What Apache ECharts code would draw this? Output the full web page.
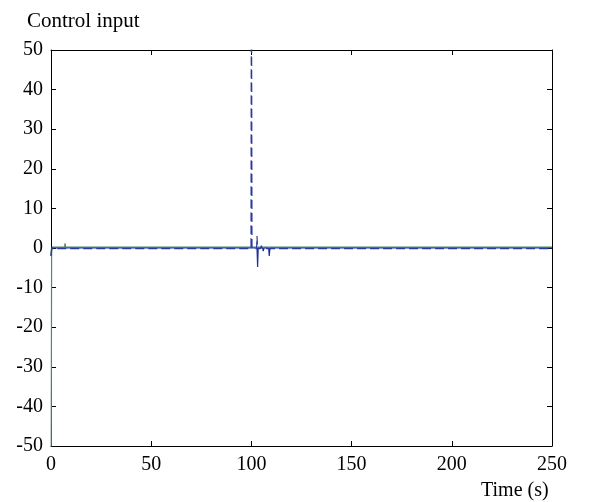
<!DOCTYPE html>
<html>
<head>
<meta charset="utf-8">
<script src="https://cdn.jsdelivr.net/npm/echarts@6/dist/echarts.min.js"></script>
<style>
  html, body { margin: 0; padding: 0; background: #fff; }
  #chart { width: 593px; height: 502px; }
</style>
</head>
<body>
<div id="chart"></div>
<script>
// Axis ticks
const xTicks = [0, 50, 100, 150, 200, 250];
const yTicks = [-50, -40, -30, -20, -10, 0, 10, 20, 30, 40, 50];

// Control channel 1 (dashed blue)
const t1 = [0, 0.3, 99.8, 100, 100.3, 102.6, 102.8, 103.1, 104.5, 105, 105.4, 250];
const u1 = [-2, -0.15, -0.15, 80, -0.15, -0.15, 3, -0.15, -0.15, 0.6, -0.15, -0.15];

// Control channel 2 (solid blue)
const t2 = [0, 0.3, 102.8, 103.1, 103.4, 105.6, 105.9, 106.3, 108.6, 108.9, 109.3, 250];
const u2 = [-2, 0, 0, -4.8, 0, 0, -0.8, 0, 0, -2, 0, 0];

// Control channel 3 (solid green)
const t3 = [0, 0.3, 0.6, 6.8, 7, 7.3, 250];
const u3 = [-80, -1.5, 0.2, 0.2, 1.2, 0.2, 0.2];

const pairs = (t, u) => t.map((v, i) => [v, u[i]]);

const font = 'Liberation Serif, Times New Roman, serif';
const chart = echarts.init(document.getElementById('chart'), null, { renderer: 'canvas' });

const boxAxis = {
  axisLine: { show: true, onZero: false, lineStyle: { color: '#000', width: 1 } },
  axisTick: { show: true, inside: true, length: 5, lineStyle: { color: '#000' } },
  splitLine: { show: false }
};

chart.setOption({
  animation: false,
  backgroundColor: '#fff',
  title: {
    text: 'Control input',
    left: 22, top: 6,
    textStyle: { fontFamily: font, fontSize: 21, fontWeight: 'normal', color: '#000' }
  },
  graphic: [{
    type: 'text', left: 481, top: 481,
    style: { text: 'Time (s)', font: '20px ' + font, fill: '#000' }
  }],
  grid: { left: 51, right: 41, top: 50, bottom: 56 },
  xAxis: [
    Object.assign({
      type: 'value', min: 0, max: 250, interval: 50, position: 'bottom',
      axisLabel: { fontFamily: font, fontSize: 20, color: '#000', margin: 9,
        formatter: v => xTicks.includes(v) ? String(v) : '' }
    }, boxAxis),
    Object.assign({
      type: 'value', min: 0, max: 250, interval: 50, position: 'top',
      axisLabel: { show: false }
    }, boxAxis)
  ],
  yAxis: [
    Object.assign({
      type: 'value', min: -50, max: 50, interval: 10, position: 'left',
      axisLabel: { fontFamily: font, fontSize: 20, color: '#000', margin: 8,
        formatter: v => yTicks.includes(v) ? String(v) : '' }
    }, boxAxis),
    Object.assign({
      type: 'value', min: -50, max: 50, interval: 10, position: 'right',
      axisLabel: { show: false }
    }, boxAxis)
  ],
  series: [
    {
      type: 'line', data: pairs(t3, u3), symbol: 'none', clip: true,
      lineStyle: { color: '#4f8a68', width: 1.2 }
    },
    {
      type: 'line', data: pairs(t2, u2), symbol: 'none', clip: true,
      lineStyle: { color: '#1f2fa0', width: 1.2 }
    },
    {
      type: 'line', data: pairs(t1, u1), symbol: 'none', clip: true,
      lineStyle: { color: '#2a3aa0', width: 1.2, type: [9, 4] }
    }
  ]
});
</script>
</body>
</html>
